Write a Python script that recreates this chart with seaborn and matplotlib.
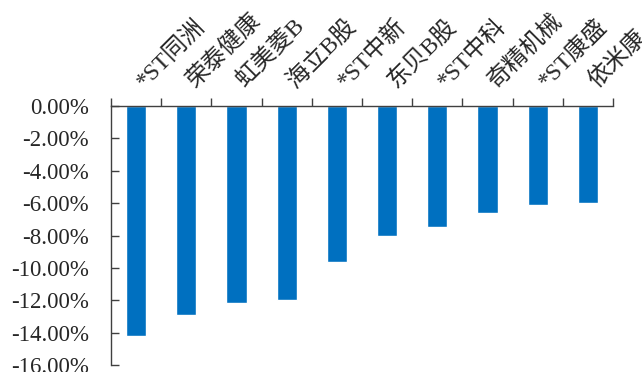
import seaborn as sns
import pandas as pd
import matplotlib.pyplot as plt
import matplotlib.transforms as mtransforms
from matplotlib.ticker import FuncFormatter, FixedLocator

# data (percent change)
names = ['*ST同洲', '荣泰健康', '虹美菱B', '海立B股', '*ST中新',
         '东贝B股', '*ST中科', '奇精机械', '*ST康盛', '依米康']
changes = [-14.2, -12.9, -12.2, -12.0, -9.65, -8.0, -7.45, -6.6, -6.1, -6.0]

df = pd.DataFrame({'name': names, 'change': changes})

sns.set_theme(style='white')
plt.rcParams['font.family'] = ['Liberation Serif', 'Noto Sans CJK SC']

fig = plt.figure(figsize=(6.42, 3.72), dpi=100)
ax = fig.add_axes([111 / 642, 7 / 372, (613 - 111) / 642, (365 - 106) / 372])

sns.barplot(data=df, x='name', y='change', color='#0070C0', width=0.4,
            saturation=1, ax=ax)

ax.set_ylim(-16, 0)
ax.set_xlim(-0.5, len(names) - 0.5)
ax.set_yticks(range(-16, 1, 2))
ax.yaxis.set_major_formatter(FuncFormatter(lambda v, p: f'{v:.2f}%'))
ax.set_xlabel('')
ax.set_ylabel('')

# category axis on top, ticks between categories
ax.xaxis.tick_top()
ax.set_xticklabels([])
ax.xaxis.set_minor_locator(FixedLocator([i - 0.5 for i in range(len(names) + 1)]))
ax.tick_params(axis='x', which='major', length=0)
ax.tick_params(axis='x', which='minor', top=True, direction='out', length=6,
               width=1, color='#404040')
ax.tick_params(axis='y', direction='in', length=6, width=1, color='#404040',
               left=True, labelsize=16.5, pad=16)

# rotated category labels above the axis
trans = mtransforms.blended_transform_factory(ax.transData, ax.transAxes)
offset = mtransforms.ScaledTranslation(12 / 100, 14 / 100, fig.dpi_scale_trans)
for i, name in enumerate(names):
    ax.text(i, 1, name, transform=trans + offset, rotation=45,
            rotation_mode='anchor', ha='left', va='bottom', fontsize=17,
            clip_on=False)

for s in ['bottom', 'right']:
    ax.spines[s].set_visible(False)
for s in ['top', 'left']:
    ax.spines[s].set_color('#404040')
    ax.spines[s].set_linewidth(1)

fig.savefig('out.png', dpi=100)
